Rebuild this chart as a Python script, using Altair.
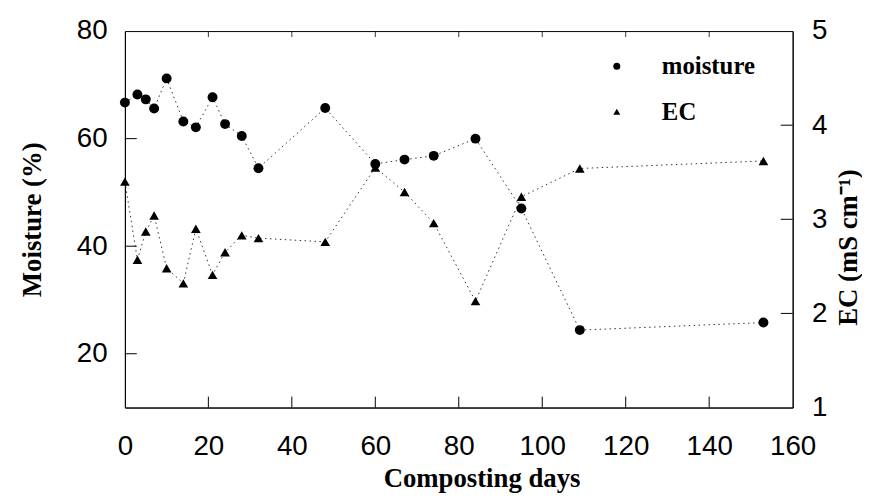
import altair as alt
import pandas as pd

# ---- data ----
days = [0, 3, 5, 7, 10, 14, 17, 21, 24, 28, 32, 48, 60, 67, 74, 84, 95, 109, 153]
moisture = [66.7, 68.2, 67.3, 65.6, 71.2, 63.2, 62.1, 67.7, 62.7, 60.5, 54.5,
            65.7, 55.3, 56.1, 56.8, 60.0, 47.0, 24.4, 25.8]
ec = [3.40, 2.57, 2.87, 3.04, 2.48, 2.32, 2.90, 2.41, 2.65, 2.83, 2.80,
      2.76, 3.55, 3.29, 2.96, 2.13, 3.24, 3.54, 3.62]

x_labels = [0, 20, 40, 60, 80, 100, 120, 140, 160]
m_labels = [20, 40, 60, 80]
ec_labels = [1, 2, 3, 4, 5]
x_inner_ticks = [20, 40, 60, 80, 100, 120, 140]
m_inner_ticks = [20, 40, 60]
ec_inner_ticks = [2, 3, 4]
series_names = ["moisture", "EC"]

W, H = 674, 380

df_m = pd.DataFrame({"day": days, "v": moisture, "series": "moisture"})
df_e = pd.DataFrame({"day": days, "v": ec, "series": "EC"})

sx = alt.Scale(domain=[0, 160], nice=False, zero=False)
sm = alt.Scale(domain=[10, 80], nice=False, zero=False)
se = alt.Scale(domain=[1, 5], nice=False, zero=False)

x_axis = alt.Axis(values=x_labels, title="Composting days", ticks=False, tickSize=0,
                  labelPadding=25, titlePadding=6, titleX=360, grid=False,
                  labelFlush=False)
X = lambda f: alt.X(f, scale=sx, axis=x_axis)

shape_scale = alt.Scale(domain=series_names, range=["circle", "triangle-up"])
legend = alt.Legend(title=None, orient="none", legendX=484, legendY=23,
                    labelFont="Liberation Serif", labelFontWeight="bold",
                    labelFontSize=25, labelColor="black", symbolSize=50,
                    symbolFillColor="black", symbolStrokeColor="black",
                    symbolStrokeWidth=0, symbolOpacity=1, rowPadding=20,
                    labelOffset=33, padding=0)

dots = dict(strokeDash=[1.5, 3.5], strokeWidth=1, color="#333333")

line_m = alt.Chart(df_m).mark_line(**dots).encode(
    x=X("day:Q"),
    y=alt.Y("v:Q", scale=sm, axis=alt.Axis(orient="left", values=m_labels,
            title="Moisture (%)", ticks=False, tickSize=0, labelPadding=18,
            titlePadding=30, grid=False, labelFlush=False)),
)
pts_m = alt.Chart(df_m).mark_point(filled=True, size=100, opacity=1, color="black").encode(
    x=X("day:Q"),
    y=alt.Y("v:Q", scale=sm, axis=None),
    shape=alt.Shape("series:N", scale=shape_scale, legend=legend),
)
line_e = alt.Chart(df_e).mark_line(**dots).encode(
    x=X("day:Q"),
    y=alt.Y("v:Q", scale=se, axis=alt.Axis(orient="right", values=ec_labels,
            title="EC (mS cm⁻¹)", ticks=False, tickSize=0, labelPadding=19,
            titlePadding=9, titleAngle=270, titleBaseline="top", titleY=218,
            grid=False, labelFlush=False)),
)
pts_e = alt.Chart(df_e).mark_point(filled=True, size=95, opacity=1, color="black").encode(
    x=X("day:Q"),
    y=alt.Y("v:Q", scale=se, axis=None),
    shape=alt.Shape("series:N", scale=shape_scale, legend=legend),
)

rule = dict(color="black", strokeWidth=1)
t_left = alt.Chart(pd.DataFrame({"v": m_inner_ticks})).mark_rule(**rule).encode(
    y=alt.Y("v:Q", scale=sm, axis=None), x=alt.value(0), x2=alt.value(12))
t_right = alt.Chart(pd.DataFrame({"v": ec_inner_ticks})).mark_rule(**rule).encode(
    y=alt.Y("v:Q", scale=se, axis=None), x=alt.value(W - 12), x2=alt.value(W))
t_bot = alt.Chart(pd.DataFrame({"day": x_inner_ticks})).mark_rule(**rule).encode(
    x=X("day:Q"), y=alt.value(H), y2=alt.value(H - 11))
t_top = alt.Chart(pd.DataFrame({"day": x_inner_ticks})).mark_rule(color="black", strokeWidth=0.8).encode(
    x=X("day:Q"), y=alt.value(0), y2=alt.value(6))

chart = alt.layer(line_m, line_e, t_left, t_right, t_bot, t_top, pts_m, pts_e).resolve_scale(
    y="independent"
).properties(
    width=W, height=H,
    padding={"left": 10, "top": 7, "right": 0, "bottom": 2},
    background="white",
).configure_view(
    stroke="black", strokeWidth=1
).configure_axis(
    domainColor="black", domainWidth=1,
    labelFont="Liberation Sans", labelFontSize=28, labelColor="black",
    titleFont="Liberation Serif", titleFontWeight="bold", titleFontSize=27,
    titleColor="black",
)

chart.save("out.html", embed_options={"renderer": "svg", "actions": False})
